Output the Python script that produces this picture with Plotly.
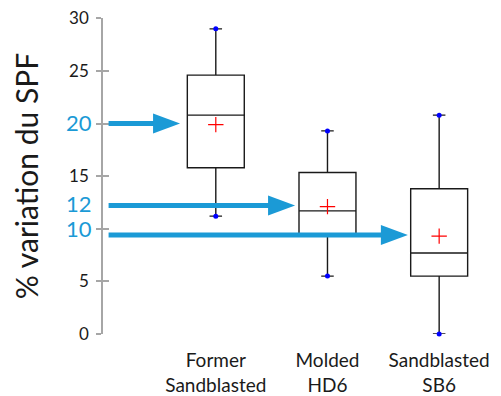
import plotly.graph_objects as go

# ---- data ----
categories = ["Former<br>Sandblasted", "Molded<br>HD6", "Sandblasted<br>SB6"]
positions = [0, 1, 2]
lower_whisker = [11.2, 5.5, 0.0]
q1 = [15.8, 9.3, 5.5]
median = [20.8, 11.7, 7.7]
q3 = [24.6, 15.35, 13.8]
upper_whisker = [29.0, 19.3, 20.8]
mean = [19.9, 12.1, 9.3]

y_tick_vals = [0, 5, 10, 15, 20, 25, 30]
y_tick_text = ["0", "5", "", "15", "", "25", "30"]
y_range = [0, 30.03]

highlight_labels = ["20", "12", "10"]
highlight_label_y = [20.1, 12.4, 10.0]
arrow_y = [20.0, 12.2, 9.4]
arrow_start_x = [-0.96, -0.96, -0.96]
arrow_tip_x = [-0.32, 0.71, 1.72]

BLUE = "#1B9AD6"
AXIS_GRAY = "#a6a6a6"
FONT = "Lato"

fig = go.Figure()

for i, p in enumerate(positions):
    fig.add_trace(go.Box(
        x=[p], q1=[q1[i]], median=[median[i]], q3=[q3[i]],
        lowerfence=[lower_whisker[i]], upperfence=[upper_whisker[i]],
        width=0.51, whiskerwidth=0.22, fillcolor="white",
        line=dict(color="#1a1a1a", width=1.4),
        boxpoints=False, showlegend=False, hoverinfo="skip",
    ))

# mean markers
fig.add_trace(go.Scatter(
    x=positions, y=mean, mode="markers",
    marker=dict(symbol="cross-thin", size=11, line=dict(color="red", width=1.2), color="red"),
    showlegend=False, cliponaxis=False,
))

# whisker end dots
fig.add_trace(go.Scatter(
    x=positions + positions, y=lower_whisker + upper_whisker, mode="markers",
    marker=dict(symbol="circle", size=5, color="blue"),
    showlegend=False, cliponaxis=False, yaxis="y2",
))

shapes = []
for i in range(len(arrow_y)):
    shapes.append(dict(type="line", xref="x", yref="y",
                       x0=arrow_start_x[i], x1=arrow_tip_x[i] - 0.2,
                       y0=arrow_y[i], y1=arrow_y[i],
                       line=dict(color=BLUE, width=5)))
    shapes.append(dict(type="path", xref="x", yref="y",
                       xsizemode="pixel", ysizemode="pixel",
                       xanchor=arrow_tip_x[i], yanchor=arrow_y[i],
                       path="M 0 0 L -27 10 L -27 -10 Z",
                       fillcolor=BLUE, line=dict(color=BLUE, width=0)))

annotations = []
for t, yv in zip(highlight_labels, highlight_label_y):
    annotations.append(dict(text=t, x=0, xref="paper", xanchor="right", xshift=-9,
                            y=yv, yref="y", yanchor="middle", showarrow=False,
                            font=dict(family=FONT, size=22, color=BLUE)))

# the page body has an 8px default margin, so the figure is drawn 8px smaller
fig.update_layout(
    width=493, height=388,
    margin=dict(l=95, r=6, t=10, b=62, autoexpand=False),
    paper_bgcolor="white", plot_bgcolor="white",
    font=dict(family=FONT, color="#1a1a1a"),
    showlegend=False,
    xaxis=dict(range=[-1.01, 2.5], tickvals=positions, ticktext=categories,
               showgrid=False, zeroline=False, showline=False, ticks="",
               automargin=False, ticklabeloverflow="allow",
               ticklabelstandoff=13, tickfont=dict(family=FONT, size=19, color="#1a1a1a")),
    yaxis=dict(range=y_range, tickvals=y_tick_vals, ticktext=y_tick_text,
               showgrid=False, zeroline=False, showline=True, linecolor=AXIS_GRAY, linewidth=1.5,
               ticks="outside", ticklen=5, tickcolor=AXIS_GRAY, tickwidth=1.5,
               ticklabelstandoff=4, automargin=False, ticklabeloverflow="allow",
               tickfont=dict(family=FONT, size=17, color="#1a1a1a"),
               title=dict(text="% variation du SPF", standoff=22,
                          font=dict(family=FONT, size=30, color="#1a1a1a"))),
    yaxis2=dict(range=y_range, overlaying="y", side="left", tickvals=y_tick_vals,
                showticklabels=False, showgrid=False, zeroline=False, showline=False,
                automargin=False,
                ticks="inside", ticklen=6, tickcolor=AXIS_GRAY, tickwidth=1.5),
    shapes=shapes,
    annotations=annotations,
)

fig.write_html("out.html")
